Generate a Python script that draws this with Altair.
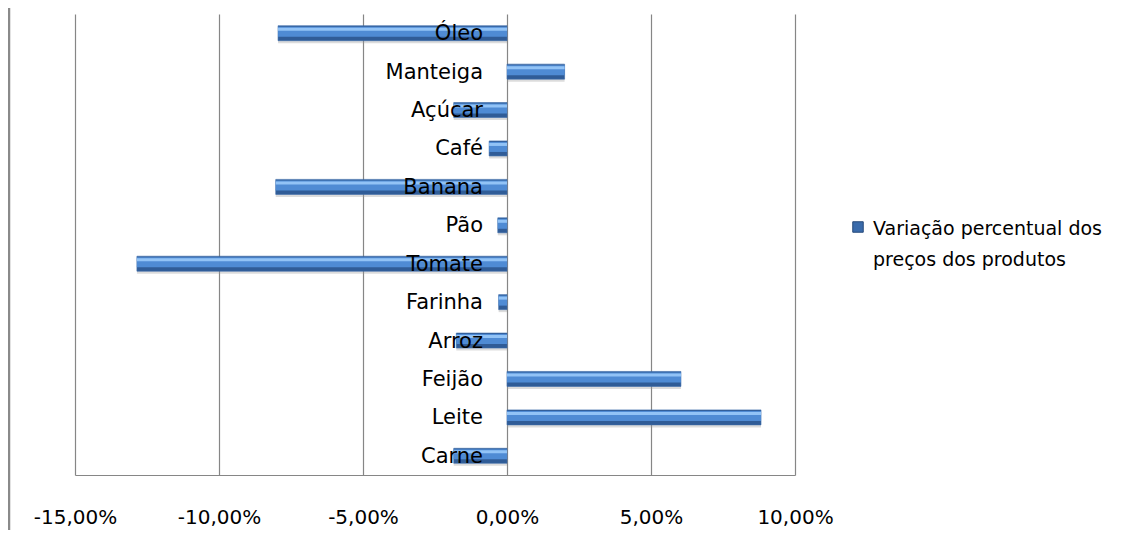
import altair as alt
import pandas as pd

categories = ["Óleo", "Manteiga", "Açúcar", "Café", "Banana", "Pão",
              "Tomate", "Farinha", "Arroz", "Feijão", "Leite", "Carne"]
values = [-7.95, 2.0, -1.85, -0.62, -8.03, -0.32,
          -12.85, -0.29, -1.76, 6.04, 8.82, -1.85]
x_ticks = [-15, -10, -5, 0, 5, 10]
series_name = ["Variação percentual dos", "preços dos produtos"]

df = pd.DataFrame({"produto": categories, "variacao": values})

FONT = "DejaVu Sans"
W, H = 720, 461

x_enc = alt.X("variacao:Q",
              scale=alt.Scale(domain=[-15, 10], nice=False, zero=False),
              axis=alt.Axis(values=x_ticks, title=None, grid=True,
                            gridColor="#868686", gridWidth=1.2,
                            domain=True, domainColor="#868686", domainWidth=1.2,
                            ticks=False, labelPadding=32, labelFontSize=20,
                            labelFont=FONT, labelColor="#000000", labelFlush=False,
                            labelExpr="replace(replace(format(datum.value, '.2f'), '.', ','), '\u2212', '-') + '%'",
                            zindex=0))
y_enc = alt.Y("produto:N", sort=categories,
              scale=alt.Scale(paddingInner=0, paddingOuter=0),
              axis=None)

base = alt.Chart(df)

shadow = base.mark_bar(size=8, yOffset=6, color="#9a9a9a", opacity=0.35).encode(
    x=x_enc, y=y_enc, x2=alt.datum(0))
bar_dark = base.mark_bar(size=15, color="#305c97", stroke="#3c6cab", strokeWidth=0.6).encode(
    x=x_enc, y=y_enc, x2=alt.datum(0))
bar_mid = base.mark_bar(size=10, yOffset=-1.5, color="#4f8bd4").encode(
    x=x_enc, y=y_enc, x2=alt.datum(0))
bar_hi = base.mark_bar(size=3, yOffset=-4, color="#92c3f6").encode(
    x=x_enc, y=y_enc, x2=alt.datum(0))
labels = base.mark_text(align="right", baseline="middle", dx=-24, dy=1, fontSize=21,
                        font=FONT, color="#000000").encode(
    x=alt.datum(0), y=y_enc, text="produto:N")

one = alt.Chart(pd.DataFrame({"k": [0]}))
page_line = one.mark_rule(color="#8a8a8a", strokeWidth=2.5).encode(
    x=alt.value(-66), y=alt.value(-14), y2=alt.value(530))
legend_sym = one.mark_square(size=110, color="#3a6bab", stroke="#264a7a",
                             strokeWidth=1, opacity=1).encode(
    x=alt.value(783), y=alt.value(213))
legend_txt = one.mark_text(align="left", baseline="alphabetic", fontSize=19,
                           font=FONT, color="#000000", lineHeight=31).encode(
    x=alt.value(798), y=alt.value(221), text=alt.value(series_name))

chart = alt.layer(shadow, bar_dark, bar_mid, bar_hi, labels, page_line,
                  legend_sym, legend_txt).properties(
    width=W, height=H,
    autosize=alt.AutoSizeParams(type="none"),
    padding={"left": 67, "top": 6, "right": 323, "bottom": 55},
).configure(background="white").configure_view(stroke=None)

chart.save("out.html", embed_options={"renderer": "svg", "actions": False})
